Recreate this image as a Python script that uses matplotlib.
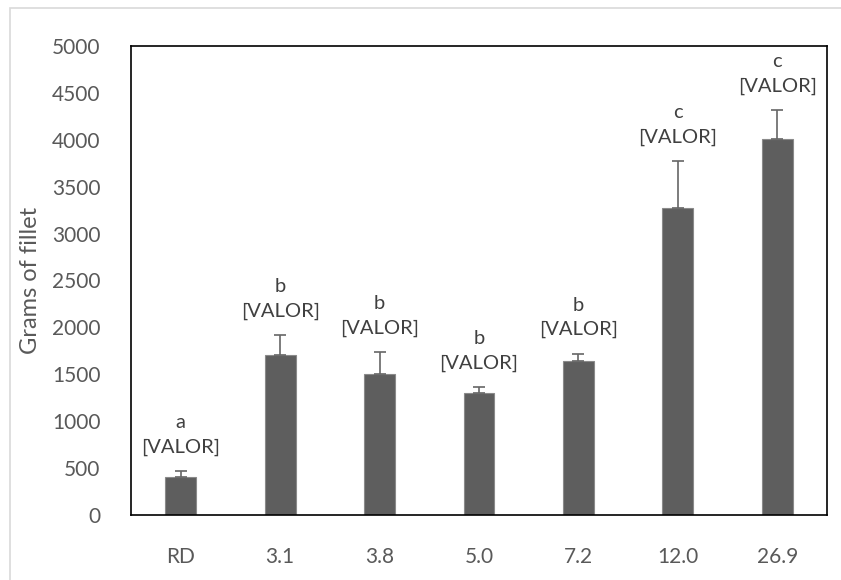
import matplotlib.pyplot as plt
from matplotlib.patches import Rectangle

categories = ['RD', '3.1', '3.8', '5.0', '7.2', '12.0', '26.9']
fillet_grams = [405, 1705, 1505, 1300, 1645, 3275, 4010]
fillet_err = [65, 215, 235, 65, 75, 500, 310]
letters = ['a', 'b', 'b', 'b', 'b', 'c', 'c']

plt.rcParams['font.family'] = ['Lato', 'DejaVu Sans']

fig = plt.figure(figsize=(8.41, 5.8), dpi=100)
ax = fig.add_axes([131 / 841, 1 - 515 / 580, (827 - 131) / 841, (515 - 46) / 580])

# light gray outer frame like the excel chart area
fig.patches.append(Rectangle((10 / 841, -0.1), 1.2, 1.1 - 8 / 580, transform=fig.transFigure,
                             fill=False, edgecolor='#d9d9d9', linewidth=1.2))

x = range(len(categories))
ax.bar(x, fillet_grams, width=0.31, color='#5e5e5e', edgecolor='#8a8a8a', linewidth=0.8, zorder=2)
ax.errorbar(x, fillet_grams, yerr=[[0] * len(fillet_err), fillet_err], fmt='none',
            ecolor='#666666', elinewidth=1.2, capsize=4.3, capthick=1.2, zorder=3)

for i, v in enumerate(fillet_grams):
    ax.annotate(letters[i] + '\n[VALOR]', xy=(i, v + fillet_err[i]), xytext=(0, 11),
                textcoords='offset points', ha='center', va='bottom',
                fontsize=14.5, color='#404040', linespacing=1.5)

ax.set_xlim(-0.5, len(categories) - 0.5)
ax.set_ylim(0, 5000)
ax.set_yticks(range(0, 5001, 500))
ax.set_xticks(list(x))
ax.set_xticklabels(categories)
ax.tick_params(length=0, labelsize=15, labelcolor='#595959')
ax.tick_params(axis='x', pad=23)
ax.tick_params(axis='y', pad=22)

for s in ax.spines.values():
    s.set_color('black')
    s.set_linewidth(1.2)

ax.set_ylabel('Grams of fillet', fontsize=17, color='#595959', labelpad=8)

fig.savefig('out.png', dpi=100)
